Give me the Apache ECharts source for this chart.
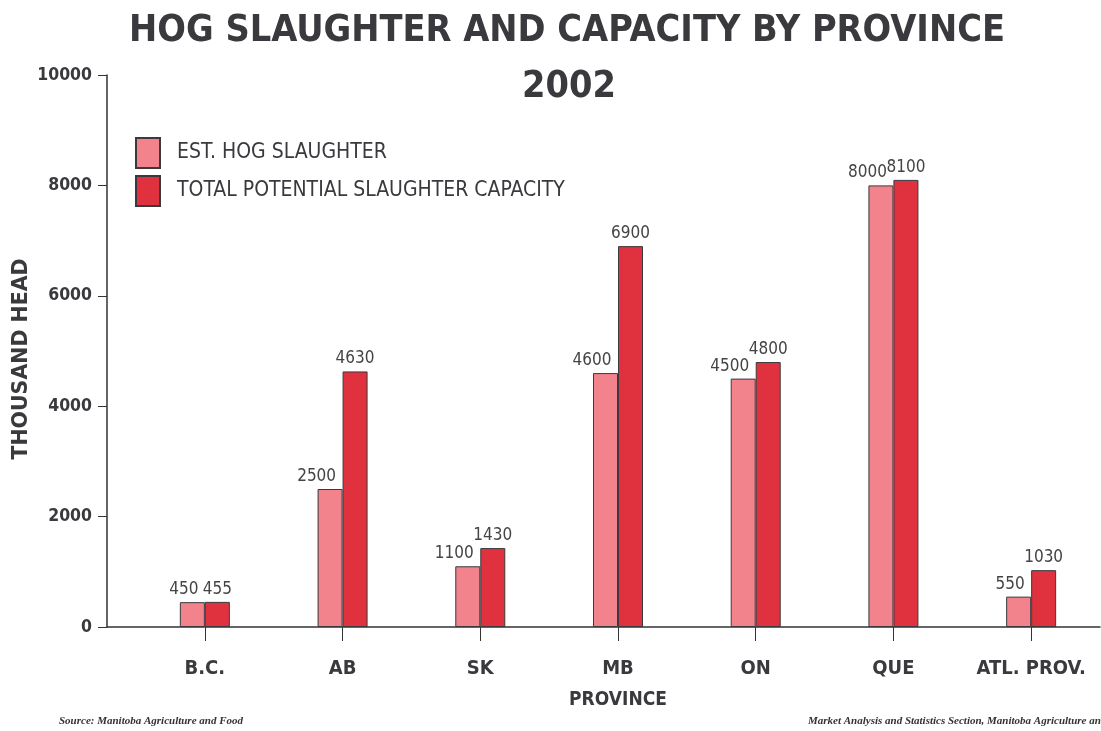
<!DOCTYPE html>
<html>
<head>
<meta charset="utf-8">
<script src="https://cdn.jsdelivr.net/npm/echarts@6/dist/echarts.min.js"></script>
<style>
  html, body { margin: 0; padding: 0; background: #fff; }
  #hogChart { width: 1101px; height: 731px; }
</style>
</head>
<body>
<div id="hogChart"></div>
<script>
  // values (thousand head)
  var provinces = ['B.C.', 'AB', 'SK', 'MB', 'ON', 'QUE', 'ATL. PROV.'];
  var slaughter = [450, 2500, 1100, 4600, 4500, 8000, 550];
  var capacity = [455, 4630, 1430, 6900, 4800, 8100, 1030];
  var yTicks = [0, 2000, 4000, 6000, 8000, 10000];

  var narrow = '"DejaVu Sans Condensed", "Liberation Sans", sans-serif';
  var ink = '#3a3a3e';

  var option = {
    animation: false,
    backgroundColor: '#fff',
    title: [{
      text: 'HOG SLAUGHTER AND CAPACITY BY PROVINCE',
      left: 562,
      top: 7,
      textAlign: 'center',
      textStyle: { fontFamily: narrow, fontWeight: 'bold', fontSize: 37.5, color: ink }
    }, {
      text: '2002',
      left: 564,
      top: 63,
      textAlign: 'center',
      textStyle: { fontFamily: narrow, fontWeight: 'bold', fontSize: 37.5, color: ink }
    }, {
      text: 'Source: Manitoba Agriculture and Food',
      left: 54,
      top: 711,
      textStyle: { fontFamily: '"Liberation Serif", serif', fontStyle: 'italic', fontWeight: 'bold', fontSize: 11, color: '#333' }
    }, {
      text: 'Market Analysis and Statistics Section, Manitoba Agriculture and Food',
      left: 803,
      top: 711,
      textStyle: { fontFamily: '"Liberation Serif", serif', fontStyle: 'italic', fontWeight: 'bold', fontSize: 11, color: '#333' }
    }],
    legend: {
      orient: 'vertical',
      left: 130,
      top: 132,
      itemWidth: 24,
      itemHeight: 30,
      itemGap: 6,
      icon: 'rect',
      textStyle: { fontFamily: narrow, fontSize: 21, color: ink, padding: [0, 0, 0, 12] },
      data: ['EST. HOG SLAUGHTER', 'TOTAL POTENTIAL SLAUGHTER CAPACITY']
    },
    grid: [
      { left: 107, right: 1, top: 75, bottom: 104, outerBoundsMode: 'none' },
      { left: 136, right: 1, top: 75, bottom: 104, outerBoundsMode: 'none' }
    ],
    xAxis: [{
      // plain baseline running from the y axis to the edge
      type: 'value',
      gridIndex: 0,
      axisLine: { show: true, lineStyle: { color: '#333', width: 1.5 } },
      axisTick: { show: false },
      axisLabel: { show: false },
      splitLine: { show: false }
    }, {
      type: 'category',
      gridIndex: 1,
      data: provinces,
      axisLine: { show: false },
      axisTick: { show: true, alignWithLabel: true, length: 14, lineStyle: { color: '#333' } },
      axisLabel: { interval: 0, margin: 32, fontFamily: narrow, fontWeight: 'bold', fontSize: 20, color: ink },
      name: 'PROVINCE',
      nameLocation: 'middle',
      nameGap: 64,
      nameMoveOverlap: false,
      nameTextStyle: { fontFamily: narrow, fontWeight: 'bold', fontSize: 19, color: ink }
    }],
    yAxis: [{
      type: 'value',
      gridIndex: 0,
      min: 0,
      max: 10000,
      interval: 2000,
      axisLine: { show: true, lineStyle: { color: '#333', width: 1.5 } },
      axisTick: { show: true, inside: false, length: 9, lineStyle: { color: '#333' } },
      axisLabel: {
        margin: 15,
        fontFamily: narrow, fontWeight: 'bold', fontSize: 17.5, color: ink,
        formatter: function (v) { return yTicks.indexOf(v) >= 0 ? String(v) : ''; }
      },
      splitLine: { show: false },
      name: 'THOUSAND HEAD',
      nameLocation: 'middle',
      nameRotate: 90,
      nameGap: 75,
      nameMoveOverlap: false,
      nameTextStyle: { fontFamily: '"DejaVu Sans", sans-serif', fontWeight: 'bold', fontSize: 20.5, color: ink, padding: [0, 16, 0, 0] }
    }, {
      type: 'value',
      gridIndex: 1,
      min: 0,
      max: 10000,
      interval: 2000,
      show: false
    }],
    series: [{
      name: 'EST. HOG SLAUGHTER',
      type: 'bar',
      xAxisIndex: 1,
      yAxisIndex: 1,
      data: slaughter,
      barWidth: 25,
      barGap: '0%',
      itemStyle: { color: '#f2838c', borderColor: '#3a3a3e', borderWidth: 1 },
      label: {
        show: true,
        position: 'top',
        align: 'right',
        offset: [6, 0],
        distance: 4,
        fontFamily: narrow, fontSize: 17, color: '#444'
      }
    }, {
      name: 'TOTAL POTENTIAL SLAUGHTER CAPACITY',
      type: 'bar',
      xAxisIndex: 1,
      yAxisIndex: 1,
      data: capacity,
      barWidth: 25,
      barGap: '0%',
      itemStyle: { color: '#e0323e', borderColor: '#3a3a3e', borderWidth: 1 },
      label: {
        show: true,
        position: 'top',
        distance: 4,
        fontFamily: narrow, fontSize: 17, color: '#444'
      }
    }]
  };

  var hogChart = echarts.init(document.getElementById('hogChart'));
  hogChart.setOption(option);
</script>
</body>
</html>
